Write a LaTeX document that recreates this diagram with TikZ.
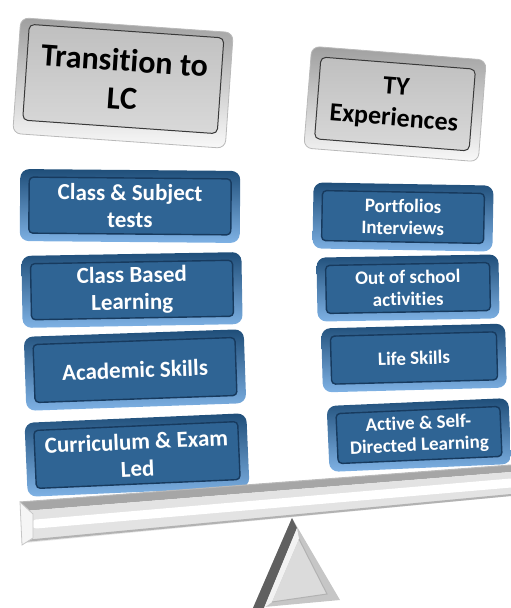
\documentclass[tikz,border=0pt]{standalone}
\usepackage{fontspec}
\setmainfont{Carlito}[Ligatures=NoCommon]
\usepackage{tikz}

\definecolor{bluetop}{HTML}{1F4E79}
\definecolor{bluebot}{HTML}{7FB2E5}
\definecolor{blueface}{HTML}{2F6494}
\definecolor{blueline}{HTML}{173A5E}

\begin{document}
\begin{tikzpicture}[x=1pt,y=-1pt]
	\tikzstyle{hdrbase}=[rounded corners=8pt,top color=gray!75,bottom color=gray!5,draw=gray!55,line width=0.8pt,inner sep=0pt]
	\tikzstyle{hdrface}=[rounded corners=5pt,top color=gray!50,bottom color=gray!30,draw=gray!45!black,line width=1pt,align=center,inner sep=0pt]
	\tikzstyle{bluebase}=[rounded corners=9pt,top color=bluetop,bottom color=bluebot,inner sep=0pt]
	\tikzstyle{bluebox}=[rounded corners=4pt,fill=blueface,draw=blueline,line width=1.4pt,align=center,inner sep=0pt,text=white]
	\tikzstyle{lefttext}=[font=\fontsize{23}{27}\selectfont\bfseries]
	\tikzstyle{righttext}=[font=\fontsize{19}{22}\selectfont\bfseries]
	\useasboundingbox (0,0) rectangle (511,608);

	% headers
	\node[hdrbase,minimum width=213,minimum height=116,rotate=-4](lcbase) at (123,83) {};
	\node[hdrface,minimum width=195,minimum height=96,rotate=-4,yshift=4pt,font=\fontsize{32}{38}\selectfont\bfseries](lc) at (lcbase.center) {Transition to\\LC};
	\node[hdrbase,minimum width=175,minimum height=102,rotate=-4.5](tybase) at (395,104) {};
	\node[hdrface,minimum width=155,minimum height=82,rotate=-4.5,font=\fontsize{26}{31}\selectfont\bfseries](ty) at (tybase.center) {TY\\Experiences};

	% left column
	\node[bluebase,minimum width=220,minimum height=72,rotate=-0.5](testsbase) at (130,206) {};
	\node[bluebox,lefttext,minimum width=202,minimum height=56,rotate=-0.5](tests) at (testsbase.center) {Class \& Subject\\tests};
	\node[bluebase,minimum width=220,minimum height=72,rotate=1](classbase) at (132,290) {};
	\node[bluebox,lefttext,minimum width=202,minimum height=56,rotate=1](class) at (classbase.center) {Class Based\\Learning};
	\node[bluebase,minimum width=220,minimum height=74,rotate=2](academicbase) at (135,370) {};
	\node[bluebox,lefttext,minimum width=202,minimum height=58,rotate=2](academic) at (academicbase.center) {Academic Skills};
	\node[bluebase,minimum width=222,minimum height=74,rotate=2.5](exambase) at (137,455) {};
	\node[bluebox,lefttext,minimum width=204,minimum height=58,rotate=2.5](exam) at (exambase.center) {Curriculum \& Exam\\Led};

	% right column
	\node[bluebase,minimum width=180,minimum height=66,rotate=-1](portfoliobase) at (403,217) {};
	\node[bluebox,righttext,minimum width=162,minimum height=50,rotate=-1](portfolio) at (portfoliobase.center) {Portfolios\\Interviews};
	\node[bluebase,minimum width=182,minimum height=64,rotate=1](outbase) at (408,288) {};
	\node[bluebox,righttext,minimum width=164,minimum height=48,rotate=1](out) at (outbase.center) {Out of school\\activities};
	\node[bluebase,minimum width=184,minimum height=64,rotate=1.5](lifebase) at (414,358) {};
	\node[bluebox,righttext,minimum width=166,minimum height=48,rotate=1.5](life) at (lifebase.center) {Life Skills};
	\node[bluebase,minimum width=182,minimum height=66,rotate=2.5](activebase) at (419,435) {};
	\node[bluebox,righttext,minimum width=164,minimum height=50,rotate=2.5](active) at (activebase.center) {Active \& Self-\\Directed Learning};

	% beam
	\fill[gray!70] (20,502) -- (511,465) -- (511,472) -- (24,511) -- cycle;
	\draw[gray!55,line width=1pt] (20,502) -- (511,465);
	\fill[gray!22] (24,511) -- (511,472) -- (511,496) -- (24,543) -- cycle;
	\draw[white,line width=9pt,line cap=round] (36,524) -- (511,483);
	\draw[gray!60,line width=2pt] (24,541) -- (511,495);
	\fill[gray!8] (20,502) -- (33,514) -- (33,538) -- (22,545) -- cycle;
	\draw[gray!45,line width=0.8pt] (20,502) -- (33,514) -- (33,538) -- (22,545) -- cycle;

	% fulcrum
	\fill[gray!45] (292,518) -- (253,608) -- (340,600) -- cycle;
	\fill[gray!75!black] (292,518) -- (253,608) -- (264,608) -- (297,528) -- cycle;
	\fill[gray!10] (297,528) -- (264,608) -- (272,602) -- (299,539) -- cycle;
	\fill[gray!28] (299,539) -- (272,602) -- (327,594) -- cycle;
	\draw[gray!60,line width=1pt] (299,539) -- (327,594) -- (272,602);
\end{tikzpicture}
\end{document}
